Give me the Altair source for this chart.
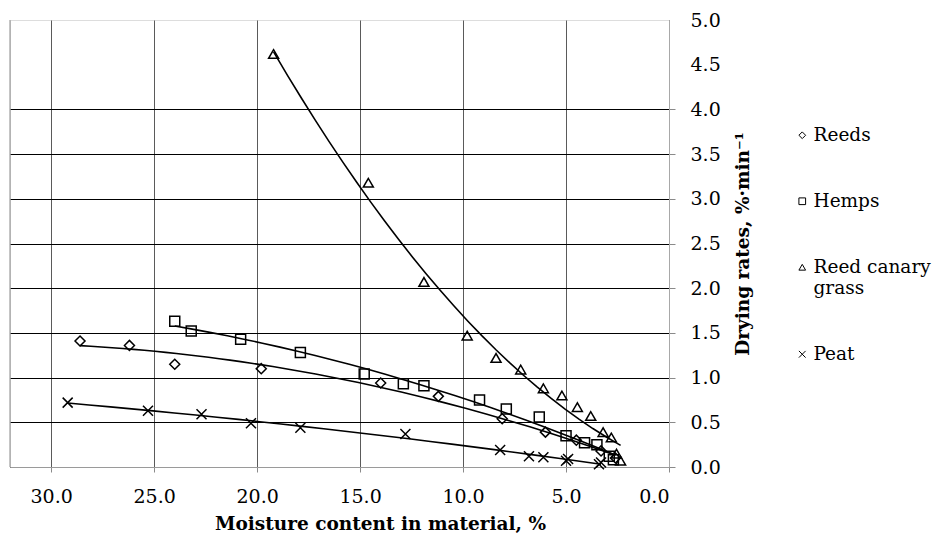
import altair as alt
import pandas as pd

series_names = ["Reeds", "Hemps", "Reed canary grass", "Peat"]

reeds_x = [28.6, 26.2, 24.0, 19.8, 14.0, 11.2, 8.1, 6.0, 4.5, 3.3, 2.6]
reeds_y = [1.41, 1.36, 1.15, 1.10, 0.94, 0.79, 0.54, 0.39, 0.30, 0.18, 0.10]

hemps_x = [24.0, 23.2, 20.8, 17.9, 14.8, 12.9, 11.9, 9.2, 7.9, 6.3, 5.0, 4.1, 3.5, 2.9, 2.7]
hemps_y = [1.63, 1.52, 1.43, 1.28, 1.04, 0.93, 0.91, 0.75, 0.65, 0.56, 0.35, 0.27, 0.25, 0.12, 0.08]

rcg_x = [19.2, 14.6, 11.9, 9.8, 8.4, 7.2, 6.1, 5.2, 4.45, 3.8, 3.2, 2.8, 2.55, 2.35]
rcg_y = [4.62, 3.18, 2.07, 1.47, 1.22, 1.09, 0.88, 0.80, 0.67, 0.57, 0.39, 0.33, 0.15, 0.07]

peat_x = [29.2, 25.3, 22.7, 20.3, 17.9, 12.8, 8.2, 6.8, 6.1, 5.0, 4.9, 3.4, 3.3]
peat_y = [0.72, 0.63, 0.59, 0.49, 0.44, 0.37, 0.19, 0.12, 0.11, 0.07, 0.09, 0.03, 0.05]

x_ticks = [0, 5, 10, 15, 20, 25, 30]
y_ticks = [0, 0.5, 1.0, 1.5, 2.0, 2.5, 3.0, 3.5, 4.0, 4.5, 5.0]

rows = []
for name, xs, ys in zip(series_names,
                        [reeds_x, hemps_x, rcg_x, peat_x],
                        [reeds_y, hemps_y, rcg_y, peat_y]):
    for xv, yv in zip(xs, ys):
        rows.append({"series": name, "x": xv, "y": yv})
df = pd.DataFrame(rows)

FONT = "DejaVu Serif"

x_scale = alt.Scale(domain=[0, 32], reverse=True, nice=False, zero=False)
y_scale = alt.Scale(domain=[0, 5], nice=False)

x_axis = alt.Axis(
    values=x_ticks, format=".1f", orient="bottom",
    title="Moisture content in material, %",
    grid=True, gridColor="#5a5a5a", gridWidth=1,
    domainColor="#9a9a9a", tickColor="#8a8a8a", tickSize=5,
    labelFont=FONT, labelFontSize=19, labelColor="black", labelPadding=15,
    titleFont=FONT, titleFontSize=18.5, titleFontWeight="bold", titleColor="black",
    titlePadding=8, titleX=370,
)
y_axis = alt.Axis(
    values=y_ticks, format=".1f", orient="right",
    title="Drying rates, %·min⁻¹", titleAngle=270,
    titleX=73, titleY=223.5, titleAlign="center", titleBaseline="middle",
    grid=True, gridColor="black", gridWidth=1,
    gridOpacity=alt.condition("datum.value > 4.01", alt.value(0), alt.value(1)),
    tickOpacity=alt.condition("datum.value > 4.01", alt.value(0), alt.value(1)),
    domainColor="#a8a8a8", tickColor="#8a8a8a", tickSize=6,
    labelFont=FONT, labelFontSize=19, labelColor="black", labelPadding=15,
    titleFont=FONT, titleFontSize=18.5, titleFontWeight="bold", titleColor="black",
)

shape_scale = alt.Scale(
    domain=series_names,
    range=["diamond", "square", "triangle-up", "M-1,-1L1,1M-1,1L1,-1"],
)

base = alt.Chart(df)

points = base.mark_point(filled=False, color="black", strokeWidth=1.5, size=100, opacity=1).encode(
    x=alt.X("x:Q", scale=x_scale, axis=x_axis),
    y=alt.Y("y:Q", scale=y_scale, axis=y_axis),
    shape=alt.Shape(
        "series:N", scale=shape_scale,
        legend=alt.Legend(
            title=None, orient="none", legendX=783, legendY=106,
            padding=0, rowPadding=47, symbolSize=45, symbolStrokeWidth=1,
            symbolStrokeColor="black", symbolFillColor="transparent",
            labelFont=FONT, labelFontSize=18.5, labelColor="black", labelOffset=2,
            labelLimit=200,
            labelExpr="datum.label == 'Reed canary grass' ? ['Reed canary', 'grass'] : datum.label",
        ),
    ),
)

trend = base.transform_regression(
    "x", "y", groupby=["series"], method="poly", order=2
).mark_line(color="black", strokeWidth=1.6).encode(
    x=alt.X("x:Q", scale=x_scale),
    y=alt.Y("y:Q", scale=y_scale),
    detail="series:N",
)

left_edge = alt.Chart(pd.DataFrame({"edge": [32]})).mark_rule(color="#8a8a8a", strokeWidth=1).encode(
    x=alt.X("edge:Q", scale=x_scale)
)

chart = alt.layer(left_edge, trend, points).properties(
    width=659, height=447,
    autosize=alt.AutoSizeParams(type="none"),
    padding={"left": 2, "top": 12, "right": 265, "bottom": 71},
    background="white",
).configure_view(stroke=None).configure(font=FONT)

chart.save("out.html", embed_options={"renderer": "svg", "actions": False})
